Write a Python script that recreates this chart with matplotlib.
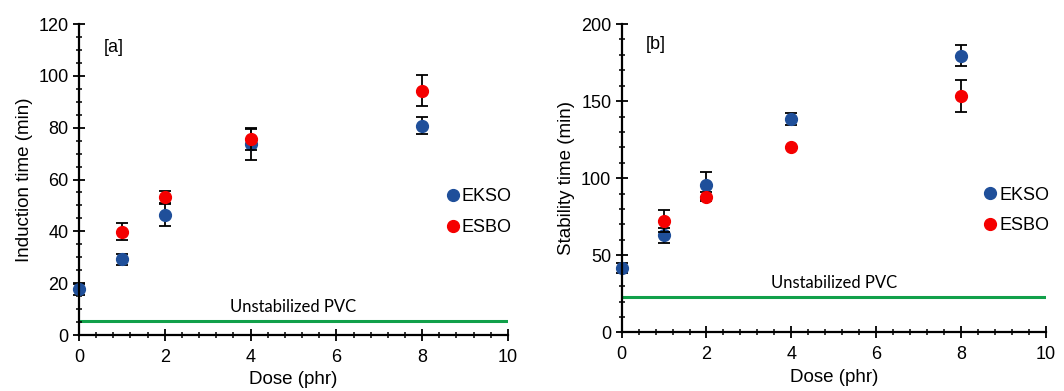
import numpy as np
import matplotlib.pyplot as plt
from matplotlib.ticker import MultipleLocator

dose = [0, 1, 2, 4, 8]
dose_esbo = [1, 2, 4, 8]

# panel a - induction time
ind_ekso = [17.6, 29.2, 46.3, 73.7, 80.8]
ind_ekso_err = [2.0, 2.0, 4.3, 6.0, 3.3]
ind_esbo = [39.9, 53.4, 75.5, 94.3]
ind_esbo_err = [3.2, 2.3, 4.0, 6.0]
ind_pvc = 5.4

# panel b - stability time
stab_ekso = [41.7, 62.9, 95.4, 138.2, 179.5]
stab_ekso_err = [3.0, 5.0, 8.8, 3.8, 7.0]
stab_esbo = [72.4, 88.0, 120.4, 153.1]
stab_esbo_err = [7.0, 3.0, 0.0, 10.3]
stab_pvc = 23.1

plt.rcParams['font.family'] = ['Liberation Sans', 'DejaVu Sans']
blue = '#1f4f9a'
red = '#f50000'
green = '#11a04a'

fig = plt.figure(figsize=(10.64, 3.91), dpi=100)
ax1 = fig.add_axes([0.0742, 0.1432, 0.4032, 0.7954])
ax2 = fig.add_axes([0.5843, 0.150, 0.3985, 0.7886])


def panel(ax, ekso, ekso_err, esbo, esbo_err, pvc, ymax, ystep, yminor, ylabel, tag, tag_y, txt_y):
    ax.axhline(pvc, color=green, lw=2.2, zorder=1)
    ax.text(5, txt_y, 'Unstabilized PVC', ha='center', va='center',
            fontsize=12, family=['Lato', 'DejaVu Sans'])
    ax.errorbar(dose, ekso, yerr=ekso_err, fmt='o', color=blue, ecolor='black',
                elinewidth=1.3, capsize=4, capthick=1.3, ms=8.5, label='EKSO',
                zorder=3, clip_on=False)
    ax.errorbar(dose_esbo, esbo, yerr=esbo_err, fmt='o', color=red, ecolor='black',
                elinewidth=1.3, capsize=4, capthick=1.3, ms=8.5, label='ESBO',
                zorder=4, clip_on=False)
    ax.set_xlim(0, 10)
    ax.set_ylim(0, ymax)
    ax.xaxis.set_major_locator(MultipleLocator(2))
    ax.xaxis.set_minor_locator(MultipleLocator(0.4))
    ax.yaxis.set_major_locator(MultipleLocator(ystep))
    ax.yaxis.set_minor_locator(MultipleLocator(yminor))
    ax.tick_params(which='major', direction='inout', length=8, width=1.3, labelsize=13)
    ax.tick_params(axis='x', which='major', pad=6)
    ax.tick_params(which='minor', direction='inout', length=5, width=1.1)
    for s in ['top', 'right']:
        ax.spines[s].set_visible(False)
    for s in ['left', 'bottom']:
        ax.spines[s].set_linewidth(1.6)
    ax.set_xlabel('Dose (phr)', fontsize=13.5, labelpad=4)
    ax.set_ylabel(ylabel, fontsize=13.5)
    ax.text(0.8, tag_y, tag, fontsize=13, ha='center', va='center')
    h, l = ax.get_legend_handles_labels()
    h = [x[0] for x in h]
    ax.legend(h, l, loc='center right', bbox_to_anchor=(1.03, 0.395), frameon=False,
              fontsize=13, handlelength=0.8, handletextpad=0.1, labelspacing=0.75,
              borderpad=0)
    for sp in ax.spines.values():
        sp.set_zorder(5)


panel(ax1, ind_ekso, ind_ekso_err, ind_esbo, ind_esbo_err, ind_pvc,
      120, 20, 5, 'Induction time (min)', '[a]', 111, 11)
panel(ax2, stab_ekso, stab_ekso_err, stab_esbo, stab_esbo_err, stab_pvc,
      200, 50, 10, 'Stability time (min)', '[b]', 187, 32)

fig.savefig('out.png', dpi=100)
